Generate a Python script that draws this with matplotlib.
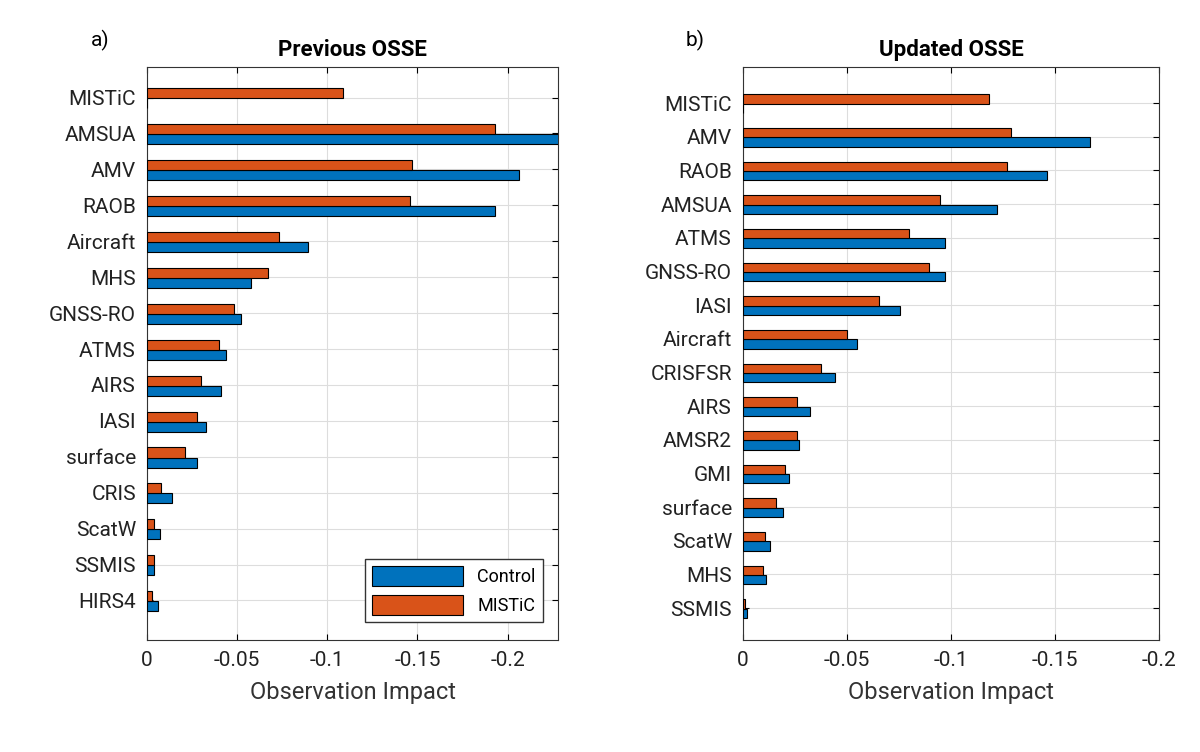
import numpy as np
import matplotlib.pyplot as plt

plt.rcParams['font.family'] = ['Roboto', 'DejaVu Sans']

# Previous OSSE
cats_a = ['MISTiC', 'AMSUA', 'AMV', 'RAOB', 'Aircraft', 'MHS', 'GNSS-RO', 'ATMS',
          'AIRS', 'IASI', 'surface', 'CRIS', 'ScatW', 'SSMIS', 'HIRS4']
ctrl_a = [0.0, -0.235, -0.2066, -0.193, -0.0893, -0.0575, -0.052, -0.044,
          -0.041, -0.033, -0.0276, -0.0138, -0.007, -0.004, -0.006]
mist_a = [-0.1085, -0.193, -0.147, -0.1457, -0.0735, -0.0672, -0.048, -0.040,
          -0.030, -0.028, -0.021, -0.0077, -0.004, -0.004, -0.003]

# Updated OSSE
cats_b = ['MISTiC', 'AMV', 'RAOB', 'AMSUA', 'ATMS', 'GNSS-RO', 'IASI', 'Aircraft',
          'CRISFSR', 'AIRS', 'AMSR2', 'GMI', 'surface', 'ScatW', 'MHS', 'SSMIS']
ctrl_b = [0.0, -0.167, -0.146, -0.122, -0.097, -0.097, -0.0757, -0.0547,
          -0.0443, -0.032, -0.027, -0.022, -0.019, -0.013, -0.011, -0.002]
mist_b = [-0.1184, -0.129, -0.127, -0.0945, -0.080, -0.0896, -0.0655, -0.050,
          -0.0377, -0.026, -0.026, -0.020, -0.016, -0.0105, -0.0095, -0.001]

blue = '#0072BD'
red = '#D95319'

fig = plt.figure(figsize=(12, 7.52), dpi=100)
ax1 = fig.add_axes([147/1200, 1-640/752, 411/1200, 573/752])
ax2 = fig.add_axes([743/1200, 1-640/752, 416/1200, 573/752])

def panel(ax, cats, ctrl, mist, title, xlim, ylim, xticks):
    y = np.arange(1, len(cats)+1)
    h = 0.28
    ax.barh(y + 0.16, ctrl, height=h, color=blue, edgecolor='k', lw=0.8, label='Control', zorder=3)
    ax.barh(y - 0.12, mist, height=h, color=red, edgecolor='k', lw=0.8, label='MISTiC', zorder=3)
    ax.set_xlim(*xlim)
    ax.set_ylim(*ylim)
    ax.set_yticks(y)
    ax.set_yticklabels(cats, fontsize=15, color='#222222')
    ax.set_xticks(xticks)
    ax.set_xticklabels(['0' if t == 0 else ('%g' % t) for t in xticks], fontsize=15, color='#222222')
    ax.grid(True, color='#dddddd', lw=0.8, zorder=0)
    ax.tick_params(direction='in', right=True, top=True, length=4, pad=8)
    for s in ax.spines.values():
        s.set_color('#333333')
    ax.set_title(title, fontsize=16, fontweight='bold', pad=8)
    ax.set_xlabel('Observation Impact', fontsize=17, color='#333333', labelpad=8)

panel(ax1, cats_a, ctrl_a, mist_a, 'Previous OSSE', (0, -0.228), (16.1, 0.15),
      [0, -0.05, -0.1, -0.15, -0.2])
panel(ax2, cats_b, ctrl_b, mist_b, 'Updated OSSE', (0, -0.2), (16.95, -0.07),
      [0, -0.05, -0.1, -0.15, -0.2])

ax1.legend(loc='lower right', fontsize=13, handlelength=5, handleheight=1.3,
           fancybox=False, edgecolor='#333333', framealpha=1, bbox_to_anchor=(0.985, 0.015))

fig.text(100/1200, 1-40/752, 'a)', fontsize=15, ha='center', va='center')
fig.text(695/1200, 1-40/752, 'b)', fontsize=15, ha='center', va='center')

fig.savefig('out.png', dpi=100)
